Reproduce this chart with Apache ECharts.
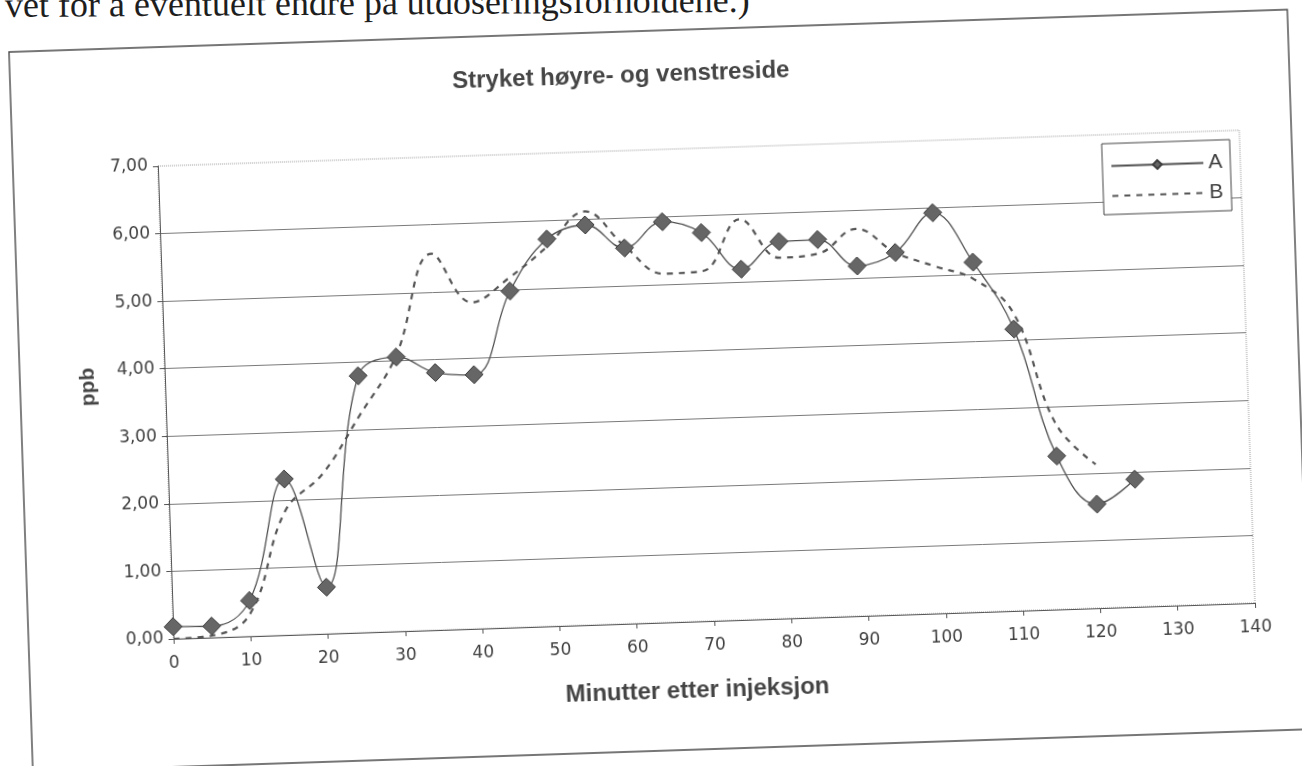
<!DOCTYPE html>
<html>
<head>
<meta charset="utf-8">
<title>Stryket høyre- og venstreside</title>
<script src="https://cdn.jsdelivr.net/npm/echarts@6/dist/echarts.min.js"></script>
<style>
  html, body { margin: 0; padding: 0; background: #fff; overflow: hidden; width: 1302px; height: 766px; }
  /* running text of the page above the chart; its upper part is cut by the sheet edge */
  #pagetext { position: absolute; left: 5px; top: -13px; margin: 0; white-space: nowrap;
              font: 36px/36px "Liberation Serif", serif; color: #1e1e1e;
              transform-origin: 0 50%; transform: rotate(-0.4deg); }
  /* the printed chart is slightly tilted, so the whole sheet is turned */
  #sheet { position: absolute; left: 9px; top: 52px; width: 1279px; height: 720px;
           transform-origin: 0 0; transform: rotate(-1.9deg); }
  #chart { position: absolute; left: -20px; top: -70px; width: 1320px; height: 810px; }
</style>
</head>
<body>
<p id="pagetext">vet for å eventuelt endre på utdoseringsforholdene.)</p>
<div id="sheet"><div id="chart"></div></div>
<script>
// sampling times (minutes after injection)
const minutesA = [0, 5, 10, 15, 20, 25, 30, 35, 40, 45, 50, 55, 60, 65, 70, 75, 80, 85, 90, 95, 100, 105, 110, 115, 120, 125];
const minutesB = [0, 5, 10, 15, 20, 25, 30, 35, 40, 45, 50, 55, 60, 65, 70, 75, 80, 85, 90, 95, 100, 105, 110, 115, 120];

// concentrations, ppb
const valuesA = [0.18, 0.17, 0.53, 2.31, 0.69, 3.80, 4.06, 3.81, 3.76, 4.98, 5.73, 5.92, 5.56, 5.93, 5.75, 5.19, 5.58, 5.59, 5.18, 5.36, 5.93, 5.18, 4.17, 2.27, 1.54, 1.89];
const valuesB = [0.00, 0.03, 0.33, 1.84, 2.37, 3.21, 4.08, 5.57, 4.83, 5.18, 5.62, 6.12, 5.59, 5.16, 5.18, 5.93, 5.34, 5.38, 5.73, 5.36, 5.14, 4.93, 4.41, 2.75, 2.13];

const seriesNames = ['A', 'B'];
const chartTitle = 'Stryket høyre- og venstreside';
const xAxisTitle = 'Minutter etter injeksjon';
const yAxisTitle = 'ppb';

const ink = '#3f3f3f';
const numFont = 'DejaVu Sans';
const headFont = 'Liberation Sans';

const chart = echarts.init(document.getElementById('chart'), null, { renderer: 'canvas' });

const pairs = (xs, ys) => xs.map((x, i) => [x, ys[i]]);

chart.setOption({
  backgroundColor: 'transparent',
  animation: false,
  title: {
    text: chartTitle,
    left: 462, top: 102, padding: 0,
    textStyle: { fontFamily: headFont, fontSize: 24, fontWeight: 'bold', color: '#454545' }
  },
  graphic: [
    // outer chart frame
    { type: 'rect', shape: { x: 20, y: 70, width: 1279, height: 720 },
      style: { fill: 'none', stroke: '#4a4a4a', lineWidth: 1.4 }, silent: true }
  ],
  legend: {
    orient: 'vertical',
    left: 1109, top: 198,
    padding: [12, 8, 8, 8],
    itemGap: 9,
    itemWidth: 92, itemHeight: 11,
    borderColor: '#444', borderWidth: 1,
    backgroundColor: '#fff',
    textStyle: { fontFamily: headFont, fontSize: 21, color: ink },
    data: [
      { name: seriesNames[0] },
      { name: seriesNames[1], itemStyle: { opacity: 0 } }
    ]
  },
  grid: {
    left: 165, top: 189, width: 1082, height: 473,
    show: true, borderColor: '#999', borderWidth: 1, borderType: 'dotted',
    containLabel: false
  },
  xAxis: {
    type: 'value', min: 0, max: 140, interval: 10,
    name: xAxisTitle, nameLocation: 'middle', nameGap: 57,
    nameTextStyle: { fontFamily: headFont, fontSize: 24, fontWeight: 'bold', color: '#454545',
                     padding: [0, 38, 0, 0] },
    axisLine: { lineStyle: { color: '#555', width: 1 } },
    axisTick: { show: true, length: 5, lineStyle: { color: '#555' } },
    axisLabel: { margin: 16, fontFamily: numFont, fontSize: 17, color: ink },
    splitLine: { show: false }
  },
  yAxis: {
    type: 'value', min: 0, max: 7, interval: 1,
    name: yAxisTitle, nameLocation: 'middle', nameRotate: 90, nameGap: 66,
    nameTextStyle: { fontFamily: headFont, fontSize: 21, fontWeight: 'bold', color: '#454545',
                     padding: [0, 0, 0, 36] },
    axisLine: { show: true, lineStyle: { color: '#555', width: 1 } },
    axisTick: { show: true, length: 5, lineStyle: { color: '#555' } },
    axisLabel: { margin: 10, fontFamily: numFont, fontSize: 17, color: ink,
                 formatter: v => v.toFixed(2).replace('.', ',') },
    splitLine: { show: true, showMinLine: false, showMaxLine: false,
                 lineStyle: { color: '#7a7a7a', width: 1 } }
  },
  series: [
    {
      name: seriesNames[0], type: 'line', data: pairs(minutesA, valuesA),
      smooth: 0.4,
      symbol: 'diamond', symbolSize: 18, showSymbol: true,
      lineStyle: { color: '#505050', width: 1.3 },
      itemStyle: { color: '#666', borderColor: '#3c3c3c', borderWidth: 1 },
      z: 3
    },
    {
      name: seriesNames[1], type: 'line', data: pairs(minutesB, valuesB),
      smooth: 0.4,
      symbol: 'none',
      lineStyle: { color: '#555', width: 2.2, type: [6, 6] },
      itemStyle: { color: '#555' },
      z: 2
    }
  ]
});
</script>
</body>
</html>
